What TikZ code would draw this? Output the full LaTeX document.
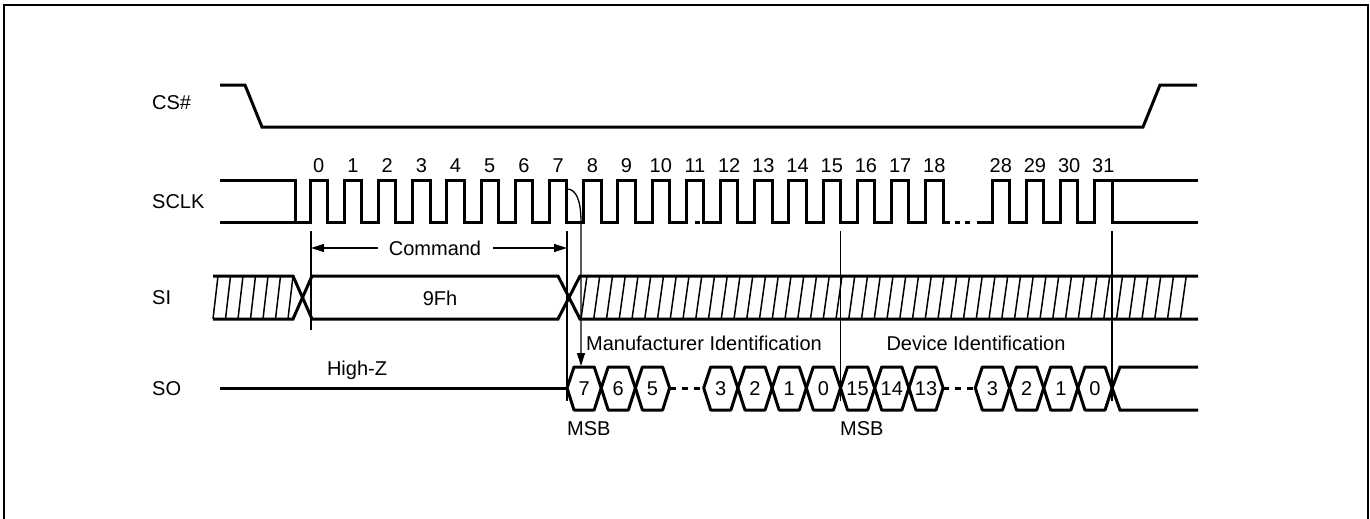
\documentclass[tikz,border=0pt]{standalone}
\usepackage{fontspec}
\setmainfont{Liberation Sans}
\usetikzlibrary{arrows.meta}
\begin{document}
\begin{tikzpicture}[x=1pt,y=-1pt,
  sig/.style={line width=3pt},
  thinline/.style={line width=1.3pt},
  hatchline/.style={line width=1.5pt},
  lbl/.style={font=\fontsize{20}{24}\selectfont, inner sep=0pt, text height=14.3pt, text depth=0pt},
  arr/.style={line width=1.3pt, -{Triangle[length=13pt,width=8pt]}},
  dashsig/.style={sig, dash pattern=on 6pt off 6pt},
]
\useasboundingbox (0,0) rectangle (1370,519);
\draw[line width=2.2pt] (4,519) -- (4,5) -- (1368,5) -- (1368,519);

% signal names
\node[lbl,anchor=west] (lcs) at (152,102) {CS\#};
\node[lbl,anchor=west] (lsclk) at (152,201) {SCLK};
\node[lbl,anchor=west] (lsi) at (152,297) {SI};
\node[lbl,anchor=west] (lso) at (152,388) {SO};

% CS#
\draw[sig] (220,85) -- (245,85) -- (262,127) -- (1143,127) -- (1160,85) -- (1197,85);

% SCLK
\draw[sig] (220,180) -- (295,180) -- (295,222);
\draw[sig] (220,222) foreach \n in {0,...,18} { -- ({310+34.2*\n},222) -- ({310+34.2*\n},180) -- ({327.5+34.2*\n},180) -- ({327.5+34.2*\n},222) } -- (950,222);
\draw[sig] (695,222) -- (700,222);
\draw[sig] (955,222) -- (960,222);
\draw[sig] (965,222) -- (970,222);
\draw[sig] (977,222) foreach \k in {0,...,3} { -- ({992+34.2*\k},222) -- ({992+34.2*\k},180) -- ({1009.5+34.2*\k},180) -- ({1009.5+34.2*\k},222) } -- (1198,222);
\draw[sig] (1112.1,180) -- (1198,180);

% clock numbers
\foreach \n in {0,...,18} \node[lbl] (c\n) at ({318.75+34.2*\n},165) {\n};
\foreach \n/\k in {28/0,29/1,30/2,31/3} \node[lbl] (c\n) at ({1000.75+34.2*\k},165) {\n};

% marker lines
\draw[thinline] (311,231) -- (311,330);
\draw[thinline] (567,231) -- (567,401);
\draw[thinline] (840.5,231) -- (840.5,401);
\draw[thinline] (1112.1,231) -- (1112.1,401);

% clock-to-output arrow
\coordinate (arcstart) at (567,189);
\coordinate (msbtop) at (581,366);
\draw[arr] (arcstart) .. controls (576,189) and (581,200) .. (581,222) -- (msbtop);

% Command
\node[lbl] (cmd) at (435,248) {Command};
\coordinate (cl) at (311,248);
\coordinate (cr) at (567,248);
\draw[arr] ([xshift=-11pt]cmd.west) -- (cl);
\draw[arr] ([xshift=12pt]cmd.east) -- (cr);

% SI
\draw[sig] (213,276) -- (293,276) -- (312,319) -- (558,319) -- (580,276) -- (1198,276);
\draw[sig] (213,319) -- (293,319) -- (312,276) -- (558,276) -- (580,319) -- (1198,319);
\foreach \k in {0,...,6} \draw[hatchline] ({213+12.5*\k},319) -- ({218+12.5*\k},276);
\foreach \k in {0,...,47} \draw[hatchline] ({581+12.75*\k},319) -- ({587+12.75*\k},276);
\node[lbl] (cmdval) at (440,298) {9Fh};

% SO
\draw[sig] (220,388) -- (567,388);
\node[lbl] (hz) at (357,368) {High-Z};
\foreach \a/\t [count=\i] in {567/7, 601.2/6, 635.4/5, 703.7/3, 737.9/2, 772.1/1, 806.3/0, 840.5/15, 874.7/14, 908.9/13, 975.3/3, 1009.5/2, 1043.7/1, 1077.9/0} {
  \draw[sig,line join=round] (\a,388) -- ++(7,-21) -- ++(20.2,0) -- ++(7,21) -- ++(-7,22) -- ++(-20.2,0) -- cycle;
  \node[lbl] (b\i) at ({\a+17.1},388) {\t};
}
\draw[dashsig] (669.6,388) -- (703.7,388);
\draw[dashsig] (943.1,388) -- (975.3,388);
\draw[sig] (1112.1,388) -- (1120,367) -- (1198,367);
\draw[sig] (1112.1,388) -- (1120,410) -- (1198,410);

\node[lbl] (mfr) at (704,343) {Manufacturer Identification};
\node[lbl] (dev) at (976,343) {Device Identification};
\node[lbl,anchor=west] (msb1) at (567,428) {MSB};
\node[lbl,anchor=west] (msb2) at (840,428) {MSB};
\end{tikzpicture}
\end{document}
